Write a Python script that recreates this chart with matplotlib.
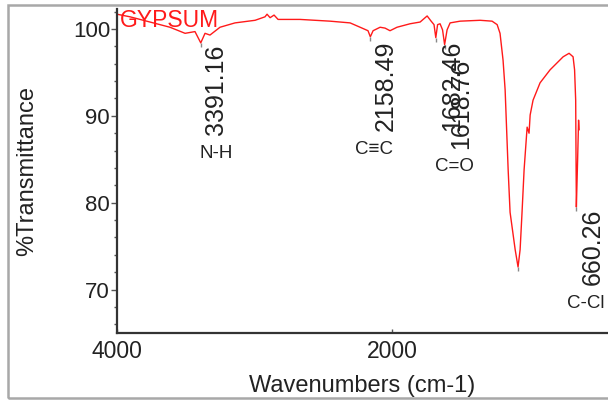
import matplotlib.pyplot as plt
from matplotlib.patches import Rectangle
from matplotlib.ticker import MultipleLocator

plt.rcParams["font.family"] = ["Liberation Sans", "DejaVu Sans"]

# spectrum (wavenumber cm-1, %T)
wavenumber = [4000, 3905, 3760, 3615, 3505, 3433, 3391, 3360, 3324, 3251,
              3142, 2996, 2924, 2909, 2887, 2858, 2829, 2669, 2451, 2305,
              2218, 2175, 2158, 2138, 2087, 2051, 2015, 1964, 1869, 1796,
              1745, 1716, 1695, 1682, 1669, 1651, 1633, 1618, 1600, 1578,
              1505, 1360, 1273, 1236, 1215, 1193, 1178, 1156, 1142, 1105,
              1084, 1069, 1055, 1040, 1018, 1004, 996, 975, 924, 851,
              756, 713, 684, 673, 665, 662, 660, 651, 644, 640]
transmittance = [101.7, 101.4, 100.8, 100.2, 99.5, 99.7, 98.4, 99.5, 99.3, 100.2,
                 100.7, 101.0, 101.4, 101.7, 101.3, 101.6, 101.1, 101.1, 100.9, 100.7,
                 100.1, 99.8, 99.1, 99.8, 100.2, 100.1, 99.8, 100.2, 100.6, 100.8,
                 101.5, 100.9, 100.5, 99.0, 100.5, 100.6, 99.9, 98.2, 99.9, 100.7,
                 100.9, 101.0, 100.9, 100.5, 99.5, 96.4, 93.0, 83.8, 78.9, 74.6,
                 72.6, 74.6, 78.9, 83.8, 88.7, 88.0, 90.1, 91.8, 93.8, 95.3,
                 96.8, 97.2, 96.8, 95.3, 91.8, 84.1, 79.5, 84.9, 89.5, 88.4]

peak_wn = [3391.16, 2158.49, 1682.46, 1618.76, 660.26]
peak_t = [98.4, 99.1, 99.0, 98.2, 79.5]
peak_text = ["3391.16", "2158.49", "1682.46", "1618.76", "660.26"]
group_text = ["N-H", "C\u2261C", "", "C=O", "C-Cl"]

# label offsets in pixels from the peak (number label, group label)
num_off = [(15, -2), (15, -4), (16, -3), (17, -14), (16, -2)]
grp_off = [(15, -111), (4, -113), (0, 0), (10, -122), (9, -96)]

fig = plt.figure(figsize=(6.08, 4.0), dpi=100)
ax = fig.add_axes([117 / 608, 67 / 400, 491 / 608, 324 / 400])

ax.plot(wavenumber, transmittance, color="#ff1a1a", lw=1.0)

# small grey markers under the picked peaks (and the main band)
mark_wn = peak_wn + [wavenumber[transmittance.index(min(transmittance))]]
mark_t = peak_t + [min(transmittance)]
ax.vlines(mark_wn, [t - 0.45 for t in mark_t], mark_t, colors="#888888", lw=1.0)

for wn, t, txt, (dx, dy) in zip(peak_wn, peak_t, peak_text, num_off):
    ax.annotate(txt, (wn, t), xytext=(dx, dy), textcoords="offset pixels",
                rotation=90, ha="center", va="top", fontsize=18, color="#222222")
for wn, t, txt, (dx, dy) in zip(peak_wn, peak_t, group_text, grp_off):
    if txt:
        ax.annotate(txt, (wn, t), xytext=(dx, dy), textcoords="offset pixels",
                    ha="center", va="center", fontsize=13.5, color="#222222")

ax.text(0.006, 1.0, "GYPSUM", transform=ax.transAxes, ha="left", va="top",
        fontsize=16.5, color="#ff1a1a")

ax.set_xlim(4000, 430)
ax.set_ylim(65, 102.3)
ax.set_xticks([4000, 2000])
ax.yaxis.set_major_locator(MultipleLocator(10))
ax.yaxis.set_minor_locator(MultipleLocator(2))
ax.tick_params(axis="y", which="major", direction="out", length=4, width=1,
               labelsize=16, pad=1, colors="#555555", labelcolor="#222222")
ax.tick_params(axis="y", which="minor", direction="out", length=2.5, width=1,
               colors="#555555")
ax.tick_params(axis="x", direction="in", length=3, width=1, labelsize=16.5,
               pad=5, colors="#555555", labelcolor="#222222")

for side in ["top", "right"]:
    ax.spines[side].set_visible(False)
for side in ["left", "bottom"]:
    ax.spines[side].set_color("#333333")
    ax.spines[side].set_linewidth(1.6)

ax.set_xlabel("Wavenumbers (cm-1)", fontsize=17, color="#222222", labelpad=9)
ax.set_ylabel("%Transmittance", fontsize=17, color="#222222", labelpad=25)

fig.patches.append(Rectangle((8 / 608, 2 / 400), 1.0, 393 / 400, transform=fig.transFigure,
                             fill=False, edgecolor="#a8a8a8", lw=1.8))

fig.savefig("out.png", dpi=100)
